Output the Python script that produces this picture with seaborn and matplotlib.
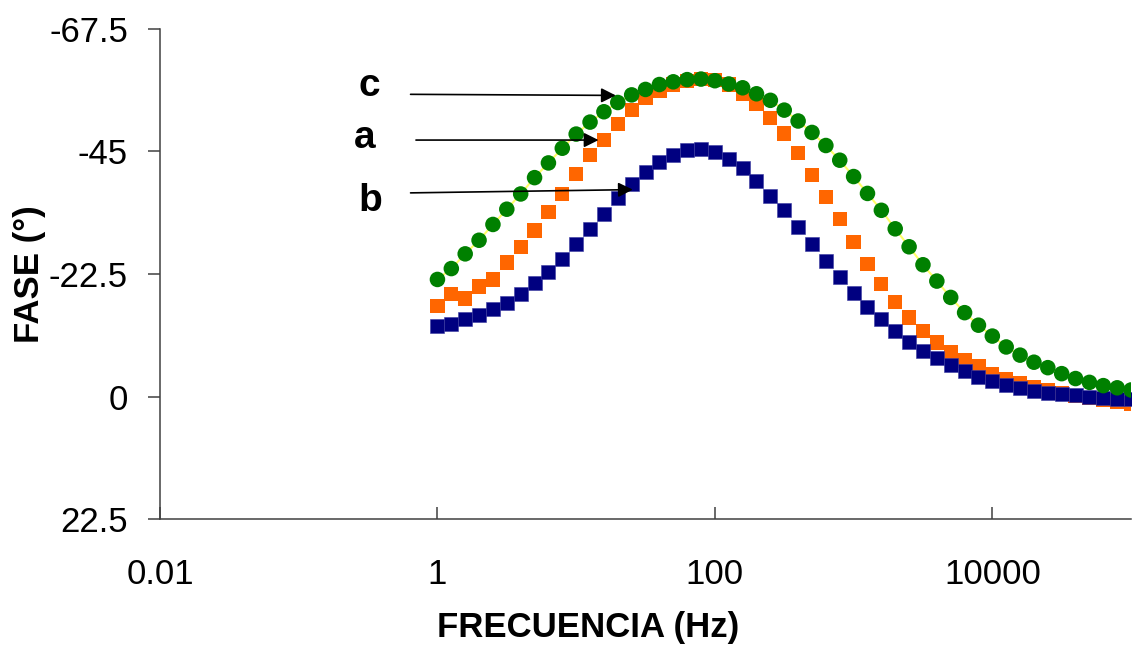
import matplotlib
matplotlib.use("Agg")
import matplotlib.pyplot as plt
import pandas as pd
import seaborn as sns

# ---------------- data ----------------
freq = [1, 1.259, 1.585, 1.995, 2.512, 3.162, 3.981, 5.012, 6.310, 7.943,
        10, 12.59, 15.85, 19.95, 25.12, 31.62, 39.81, 50.12, 63.10, 79.43,
        100, 125.9, 158.5, 199.5, 251.2, 316.2, 398.1, 501.2, 631.0, 794.3,
        1000, 1259, 1585, 1995, 2512, 3162, 3981, 5012, 6310, 7943,
        10000, 12589, 15849, 19953, 25119, 31623, 39811, 50119, 63096, 79433, 100000]

fase_c = [-21.5, -23.5, -26.2, -28.7, -31.6, -34.4, -37.2, -40.2, -42.9, -45.6,
          -48.2, -50.4, -52.3, -54.0, -55.4, -56.4, -57.3, -57.8, -58.2, -58.3,
          -58.0, -57.4, -56.7, -55.6, -54.4, -52.6, -50.6, -48.5, -46.1, -43.4,
          -40.4, -37.3, -34.2, -30.8, -27.5, -24.2, -21.2, -18.2, -15.4, -13.1,
          -11.1, -9.1, -7.6, -6.3, -5.3, -4.2, -3.3, -2.6, -2.0, -1.6, -1.2]

fase_a = [-16.6, -18.8, -18.0, -20.2, -21.5, -24.6, -27.5, -30.5, -33.9, -37.2,
          -40.8, -44.3, -47.1, -50.1, -52.6, -54.8, -56.2, -57.3, -57.9, -58.3,
          -58.2, -57.3, -55.5, -53.7, -51.1, -48.3, -44.7, -40.7, -36.7, -32.6,
          -28.4, -24.4, -20.7, -17.4, -14.5, -12.0, -9.9, -8.1, -6.6, -5.5,
          -4.2, -3.2, -2.4, -1.7, -1.1, -0.6, -0.1, 0.3, 0.7, 1.0, 1.3]

fase_b = [-12.9, -13.4, -14.2, -14.9, -16.0, -17.2, -18.9, -20.8, -22.9, -25.2,
          -28.1, -30.7, -33.6, -36.4, -39.0, -41.3, -43.1, -44.4, -45.2, -45.4,
          -44.9, -43.6, -41.9, -39.6, -36.9, -34.3, -31.1, -28.0, -24.9, -21.9,
          -19.1, -16.5, -14.2, -12.0, -10.0, -8.4, -7.0, -5.7, -4.7, -3.6,
          -2.8, -2.1, -1.6, -1.1, -0.7, -0.4, -0.2, 0.1, 0.3, 0.4, 0.5]

x_ticks = [0.01, 1, 100, 10000]
x_tick_labels = ["0.01", "1", "100", "10000"]
y_ticks = [-67.5, -45, -22.5, 0, 22.5]
y_tick_labels = ["-67.5", "-45", "-22.5", "0", "22.5"]

series_labels = ["c", "a", "b"]

# ---------------- style ----------------
sns.set_style("white")
plt.rcParams["font.family"] = ["Liberation Sans", "DejaVu Sans"]
plt.rcParams["text.color"] = "black"
plt.rcParams["axes.labelcolor"] = "black"

df_a = pd.DataFrame({"f": freq, "fase": fase_a})
df_b = pd.DataFrame({"f": freq, "fase": fase_b})
df_c = pd.DataFrame({"f": freq, "fase": fase_c})

fig = plt.figure(figsize=(11.34, 6.5), dpi=100)
ax = fig.add_axes([0.1411, 0.2015, 0.8563, 0.7539])

# series a (orange squares)
sns.scatterplot(data=df_a, x="f", y="fase", ax=ax, marker="s", s=105,
                color="#FF6600", edgecolor="none", zorder=3, legend=False)
# series b (navy squares)
sns.scatterplot(data=df_b, x="f", y="fase", ax=ax, marker="s", s=100,
                color="#000080", edgecolor="#3A3AA0", linewidth=0.4, zorder=4, legend=False)
# series c (green circles with thin yellow line)
sns.lineplot(data=df_c, x="f", y="fase", ax=ax, color="#FFFF66", lw=1.5,
             zorder=5, legend=False, estimator=None, sort=False)
sns.scatterplot(data=df_c, x="f", y="fase", ax=ax, marker="o", s=125,
                color="#008000", edgecolor="none", zorder=6, legend=False)

ax.set_xscale("log")
ax.set_xlim(0.01, 100000)
ax.set_ylim(22.5, -67.5)

ax.set_xticks(x_ticks)
ax.set_xticklabels(x_tick_labels)
ax.minorticks_off()
ax.set_yticks(y_ticks)
ax.set_yticklabels(y_tick_labels)

for side in ["top", "right"]:
    ax.spines[side].set_visible(False)
for side in ["left", "bottom"]:
    ax.spines[side].set_color("#404040")
    ax.spines[side].set_linewidth(1.1)

ax.tick_params(axis="y", direction="out", length=9, width=1.1, color="#404040",
               pad=14, labelsize=25, labelcolor="black", left=True)
ax.tick_params(axis="x", direction="in", length=9, width=1.1, color="#404040",
               pad=28, labelsize=25, labelcolor="black", bottom=True)

ax.set_xlabel("FRECUENCIA (Hz)", fontsize=25, fontweight="bold", color="black")
ax.set_ylabel("FASE (°)", fontsize=25, fontweight="bold", color="black")
ax.xaxis.set_label_coords(0.441, -0.188)
ax.yaxis.set_label_coords(-0.117, 0.50)

# annotations with arrows
arrow_kw = dict(arrowstyle="-|>", color="black", lw=1.2, mutation_scale=22,
                shrinkA=0, shrinkB=0)
ax.annotate("", xy=(19.3, -55.3), xytext=(0.64, -55.5), arrowprops=arrow_kw, zorder=7)
ax.annotate("", xy=(14.5, -47.1), xytext=(0.70, -47.1), arrowprops=arrow_kw, zorder=7)
ax.annotate("", xy=(25.6, -38.0), xytext=(0.64, -37.4), arrowprops=arrow_kw, zorder=7)

ax.text(0.325, -57.0, series_labels[0], fontsize=28, fontweight="bold", ha="center", va="center")
ax.text(0.30, -47.4, series_labels[1], fontsize=28, fontweight="bold", ha="center", va="center")
ax.text(0.328, -35.9, series_labels[2], fontsize=28, fontweight="bold", ha="center", va="center")

fig.savefig("out.png", dpi=100)
